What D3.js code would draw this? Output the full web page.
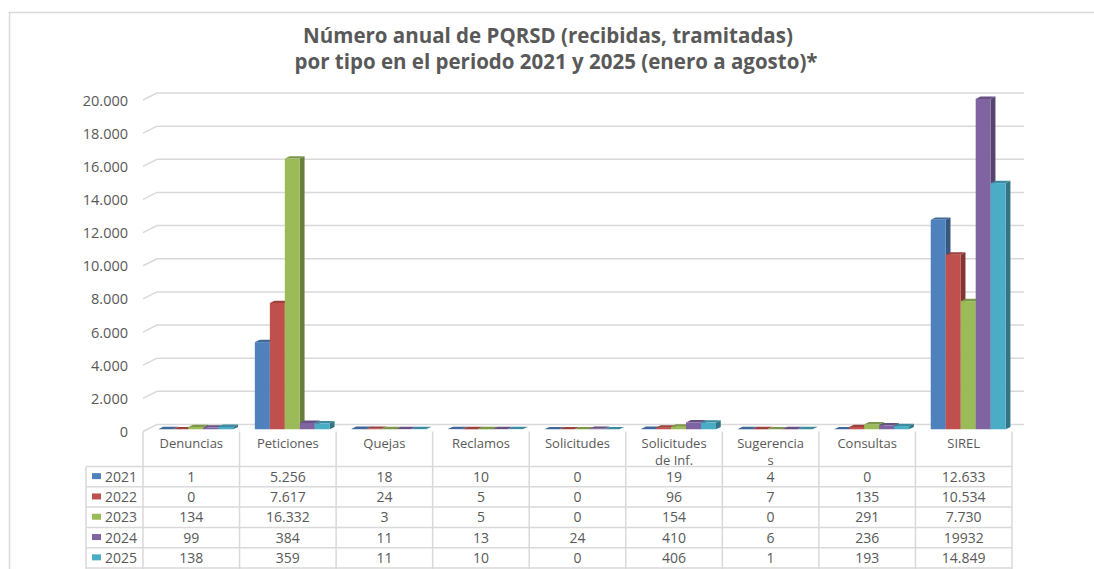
<!DOCTYPE html>
<html>
<head>
<meta charset="utf-8">
<script src="https://cdn.jsdelivr.net/npm/d3@7"></script>
<style>
  body { margin: 0; background: #fff; }
  svg { display: block; font-family: "Open Sans", sans-serif; }
  text { fill: #595959; }
</style>
</head>
<body>
<div id="chart"></div>
<script>
// categories and header labels (as wrapped in the original)
const categories = ['Denuncias', 'Peticiones', 'Quejas', 'Reclamos', 'Solicitudes',
  'Solicitudes de Inf.', 'Sugerencias', 'Consultas', 'SIREL'];
const headerLines = [['Denuncias'], ['Peticiones'], ['Quejas'], ['Reclamos'], ['Solicitudes'],
  ['Solicitudes', 'de Inf.'], ['Sugerencia', 's'], ['Consultas'], ['SIREL']];

const years = ['2021', '2022', '2023', '2024', '2025'];
const colors = ['#4F81BD', '#C0504D', '#9BBB59', '#8064A2', '#4BACC6'];

// one array per year, same order as categories
const v2021 = [1, 5256, 18, 10, 0, 19, 4, 0, 12633];
const v2022 = [0, 7617, 24, 5, 0, 96, 7, 135, 10534];
const v2023 = [134, 16332, 3, 5, 0, 154, 0, 291, 7730];
const v2024 = [99, 384, 11, 13, 24, 410, 6, 236, 19932];
const v2025 = [138, 359, 11, 10, 0, 406, 1, 193, 14849];
const series = [v2021, v2022, v2023, v2024, v2025];

// the table shows this one without thousands separator
const plainCells = ['2024|SIREL'];

const yTicks = [0, 2000, 4000, 6000, 8000, 10000, 12000, 14000, 16000, 18000, 20000];

const width = 1094, height = 569;
const fmt = d3.formatLocale({ decimal: ',', thousands: '.', grouping: [3], currency: ['$', ''] }).format(',');

const svg = d3.select('#chart').append('svg')
  .attr('width', width).attr('height', height);

// outer chart border
svg.append('path')
  .attr('d', `M9.5,${height} V12.5 H${width}`)
  .attr('fill', 'none').attr('stroke', '#d9d9d9').attr('stroke-width', 1.5);

// title
const title = svg.append('text')
  .attr('text-anchor', 'middle')
  .style('font-size', '20.5px').style('font-weight', 'bold');
title.append('tspan').attr('x', 548).attr('y', 43).text('Número anual de PQRSD (recibidas, tramitadas)');
title.append('tspan').attr('x', 556).attr('y', 69).text('por tipo en el periodo 2021 y 2025 (enero a agosto)*');

// scales
const x = d3.scaleBand().domain(categories).range([143, 1012])
  .paddingInner(0.224).paddingOuter(0.112);
const xs = d3.scaleBand().domain(years).range([0, x.bandwidth()]);
const y = d3.scaleLinear().domain([0, 20000]).range([431.5, 100]);

// 3d depth of the plot (back wall offset)
const dx = 14, dy = -7;
const s1 = 0.32, s2 = 0.66; // bar front / back depth fractions

// gridlines on back wall with the small slanted stub at the side
svg.append('g').attr('class', 'gridlines')
  .selectAll('path')
  .data(yTicks)
  .join('path')
  .attr('d', (d) => `M143,${y(d)} L${143 + dx},${y(d) + dy} H1024`)
  .attr('fill', 'none').attr('stroke', '#d9d9d9').attr('stroke-width', 1.5);

// y axis labels
const yAxis = d3.axisLeft(y).tickValues(yTicks).tickFormat(fmt).tickSize(0).tickPadding(0);
const yg = svg.append('g').attr('transform', 'translate(128,0)').call(yAxis);
yg.select('.domain').remove();
yg.selectAll('text').style('font-size', '14.5px').style('font-family', '"Open Sans", sans-serif')
  .attr('fill', '#595959').attr('dy', '0.35em');

// bars, left to right so each bar covers the neighbour's side face
const bars = [];
categories.forEach((c, i) => {
  years.forEach((yr, j) => bars.push({ cat: c, year: yr, value: series[j][i], color: colors[j] }));
});

const dd = (s2 - s1) * dx, de = (s2 - s1) * dy;
const barG = svg.append('g').attr('class', 'bars');
bars.forEach((b) => {
  const x0 = x(b.cat) + xs(b.year) + s1 * dx;
  const w = xs.bandwidth();
  const yTop = y(b.value) + s1 * dy;
  const yBot = y(0) + s1 * dy;
  const g = barG.append('g');
  g.append('polygon')
    .attr('points', [[x0 + w, yTop], [x0 + w + dd, yTop + de], [x0 + w + dd, yBot + de], [x0 + w, yBot]].join(' '))
    .attr('fill', d3.color(b.color).darker(1.1));
  g.append('polygon')
    .attr('points', [[x0, yTop], [x0 + dd, yTop + de], [x0 + w + dd, yTop + de], [x0 + w, yTop]].join(' '))
    .attr('fill', d3.color(b.color).darker(0.6));
  g.append('rect')
    .attr('x', x0).attr('y', yTop).attr('width', w).attr('height', Math.max(0, yBot - yTop))
    .attr('fill', b.color);
});

// data table
const tTop = 431.5, hdrBottom = 466.5, rowH = 20.3;
const tLeft = 86, tRight = x.range()[1];
const table = svg.append('g').attr('class', 'table');
const lineStyle = (sel) => sel.attr('stroke', '#d9d9d9').attr('stroke-width', 1.5);

years.forEach((yr, j) => {
  table.append('line').attr('x1', tLeft).attr('x2', tRight)
    .attr('y1', hdrBottom + j * rowH).attr('y2', hdrBottom + j * rowH).call(lineStyle);
});
table.append('line').attr('x1', tLeft).attr('x2', tRight)
  .attr('y1', hdrBottom + 5 * rowH).attr('y2', hdrBottom + 5 * rowH).call(lineStyle);
table.append('line').attr('x1', tLeft).attr('x2', tLeft)
  .attr('y1', hdrBottom).attr('y2', height).call(lineStyle);
const colEdges = categories.map((c) => x(c) - x.step() * x.paddingInner() / 2).concat([tRight]);
colEdges.forEach((cx) => {
  table.append('line').attr('x1', cx).attr('x2', cx).attr('y1', tTop).attr('y2', height).call(lineStyle);
});

// header labels
categories.forEach((c, i) => {
  const cx = x(c) + x.bandwidth() / 2;
  const t = table.append('text').attr('text-anchor', 'middle').style('font-size', '13px');
  headerLines[i].forEach((ln, k) => {
    t.append('tspan').attr('x', cx).attr('y', 448 + k * 16.5).text(ln);
  });
});

// rows with legend keys
years.forEach((yr, j) => {
  const cy = hdrBottom + j * rowH + rowH / 2;
  table.append('rect').attr('x', 92).attr('y', cy - 3.5).attr('width', 9).attr('height', 6)
    .attr('fill', colors[j]);
  table.append('text').attr('x', 105).attr('y', cy).attr('dy', '0.36em')
    .style('font-size', '14px').text(yr);
  categories.forEach((c, i) => {
    const v = series[j][i];
    const label = plainCells.includes(yr + '|' + c) ? String(v) : fmt(v);
    table.append('text').attr('x', x(c) + x.bandwidth() / 2).attr('y', cy).attr('dy', '0.36em')
      .attr('text-anchor', 'middle').style('font-size', '14px').text(label);
  });
});
</script>
</body>
</html>
